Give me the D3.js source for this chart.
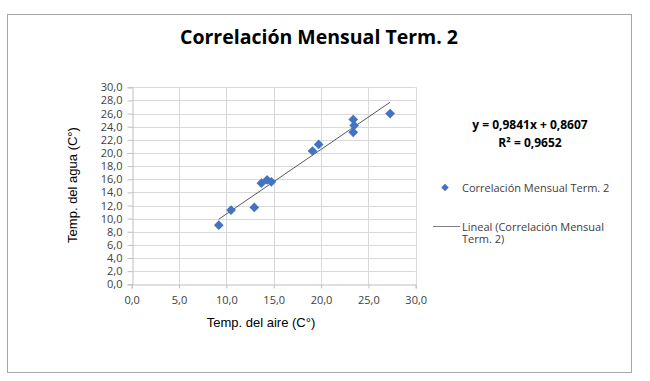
<!DOCTYPE html>
<html><head><meta charset="utf-8">
<script src="https://cdn.jsdelivr.net/npm/d3@7"></script>
<style>body{margin:0;background:#fff}svg{display:block}</style>
</head><body>
<script>
const tempAire = [9.2, 10.5, 12.95, 13.7, 14.3, 14.75, 19.1, 19.75, 23.4, 23.5, 23.4, 27.3];
const tempAgua = [9.0, 11.3, 11.7, 15.4, 15.9, 15.6, 20.3, 21.3, 25.1, 24.2, 23.15, 26.0];
const xTicks = [0, 5, 10, 15, 20, 25, 30];
const yTicks = [0, 2, 4, 6, 8, 10, 12, 14, 16, 18, 20, 22, 24, 26, 28, 30];
const slope = 0.9841, intercept = 0.8607, r2 = 0.9652;
const title = "Correlación Mensual Term. 2";
const xTitle = "Temp. del aire (C°)";
const yTitle = "Temp. del agua (C°)";
const seriesName = "Correlación Mensual Term. 2";

const W = 650, H = 381;
const svg = d3.select("body").append("svg").attr("width", W).attr("height", H);
svg.append("rect").attr("x", 7.5).attr("y", 14.5).attr("width", 624).attr("height", 358)
  .attr("fill", "#fff").attr("stroke", "#a6a6a6").attr("stroke-width", 1);

const x = d3.scaleLinear().domain([0, 30]).range([131.7, 415.7]);
const y = d3.scaleLinear().domain([0, 30]).range([284.3, 87.3]);
const fmt = v => d3.format(".1f")(v).replace(".", ",");
function fmt4(v) { return d3.format(".4f")(v).replace(".", ","); }
const labelFont = "Open Sans, sans-serif";

// gridlines
svg.append("g").selectAll("line").data(yTicks.filter(d => d > 0)).join("line")
  .attr("x1", x(0)).attr("x2", x(30)).attr("y1", d => Math.round(y(d)) + 0.5).attr("y2", d => Math.round(y(d)) + 0.5)
  .attr("stroke", "#d9d9d9");
svg.append("g").selectAll("line").data(xTicks.filter(d => d > 0)).join("line")
  .attr("y1", y(0)).attr("y2", y(30)).attr("x1", d => Math.round(x(d)) + 0.5).attr("x2", d => Math.round(x(d)) + 0.5)
  .attr("stroke", "#d9d9d9");

// axes
const xAxis = d3.axisBottom(x).tickValues(xTicks).tickFormat(fmt).tickSize(4).tickPadding(8);
const gx = svg.append("g").attr("transform", `translate(0,${Math.round(y(0)) + 0.5})`).call(xAxis);
const yAxis = d3.axisLeft(y).tickValues(yTicks).tickFormat(fmt).tickSize(5).tickPadding(5);
const gy = svg.append("g").attr("transform", `translate(${Math.round(x(0)) + 0.5},0)`).call(yAxis);
[gx, gy].forEach(g => {
  g.select(".domain").attr("stroke", "#bfbfbf");
  g.selectAll(".tick line").attr("stroke", "#bfbfbf");
  g.selectAll("text").attr("font-family", labelFont).attr("font-size", "11px").attr("fill", "#404040");
});

// trendline
const xmin = d3.min(tempAire), xmax = d3.max(tempAire);
svg.append("line")
  .attr("x1", x(xmin)).attr("y1", y(slope * xmin + intercept))
  .attr("x2", x(xmax)).attr("y2", y(slope * xmax + intercept))
  .attr("stroke", "#595959").attr("stroke-width", 1);

// points
const diamond = d3.symbol().type(d3.symbolDiamond2).size(60);
svg.append("g").selectAll("path").data(tempAire.map((d, i) => [d, tempAgua[i]])).join("path")
  .attr("d", diamond).attr("transform", d => `translate(${x(d[0])},${y(d[1])})`)
  .attr("fill", "#4472c4");

// title
svg.append("text").attr("x", 319).attr("y", 44).attr("text-anchor", "middle")
  .attr("font-family", "Open Sans, sans-serif").attr("font-weight", "bold").attr("font-size", "19.5px")
  .attr("fill", "#000").text(title);

// axis titles
svg.append("text").attr("x", 261).attr("y", 327).attr("text-anchor", "middle")
  .attr("font-family", "Liberation Sans, Arial, sans-serif").attr("font-size", "13px").text(xTitle);
svg.append("text").attr("transform", "translate(77,185) rotate(-90)").attr("text-anchor", "middle")
  .attr("font-family", "Liberation Sans, Arial, sans-serif").attr("font-size", "13px").text(yTitle);

// equation
svg.append("text").attr("x", 530).attr("y", 129).attr("text-anchor", "middle")
  .attr("font-family", "Open Sans, sans-serif").attr("font-weight", "bold").attr("font-size", "12px")
  .text(`y = ${fmt4(slope)}x + ${fmt4(intercept)}`);
svg.append("text").attr("x", 530).attr("y", 147).attr("text-anchor", "middle")
  .attr("font-family", "Open Sans, sans-serif").attr("font-weight", "bold").attr("font-size", "12px")
  .text(`R² = ${fmt4(r2)}`);

// legend
const lg = svg.append("g").attr("font-family", labelFont).attr("font-size", "11px").attr("fill", "#404040");
lg.append("path").attr("d", d3.symbol().type(d3.symbolDiamond2).size(36)).attr("transform", "translate(445,187.5)").attr("fill", "#4472c4");
lg.append("text").attr("x", 462).attr("y", 191.5).text(seriesName);
lg.append("line").attr("x1", 433).attr("x2", 460).attr("y1", 226.5).attr("y2", 226.5).attr("stroke", "#808080");
lg.append("text").attr("x", 462).attr("y", 230.5).text("Lineal (" + seriesName.split(" Term.")[0]);
lg.append("text").attr("x", 462).attr("y", 243).text("Term. 2)");
</script>
</body></html>
